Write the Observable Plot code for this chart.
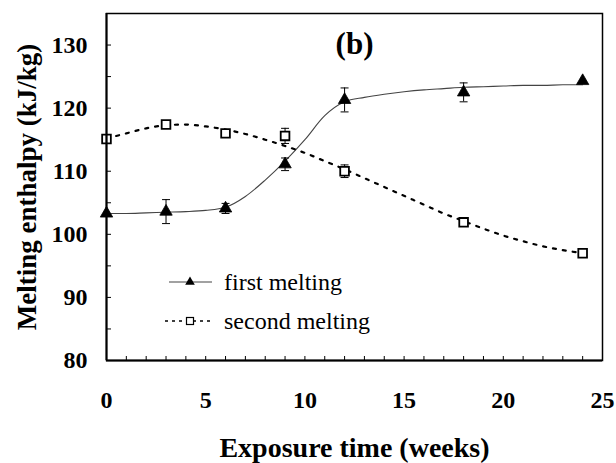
<!DOCTYPE html>
<html>
<head>
<meta charset="utf-8">
<script src="https://cdn.jsdelivr.net/npm/d3@7"></script>
<script src="https://cdn.jsdelivr.net/npm/@observablehq/plot@0.6"></script>
<style>
  html, body { margin: 0; padding: 0; background: #fff; }
  #chart { width: 616px; height: 463px; }
</style>
</head>
<body>
<div id="chart"></div>
<script>
// Measured points
const weeks = [0, 3, 6, 9, 12, 18, 24];
const firstMelting = [103.3, 103.6, 104.1, 111.1, 121.3, 122.5, 124.3];
const firstErr = [0, 1.9, 0.8, 1.0, 1.9, 1.5, 0];
const secondMelting = [115.1, 117.4, 116.0, 115.6, 110.0, 101.9, 97.0];
const secondErr = [0, 0, 0.6, 1.2, 1.0, 0.6, 0];

// Fitted curves
const fitWeeks = [0,1,2,3,4,5,6,7,8,9,10,11,12,13,14,15,16,17,18,19,20,21,22,23,24];
const fitFirst = [103.3,103.3,103.4,103.5,103.6,103.8,104.3,106.0,108.6,111.6,115.0,118.8,121.0,121.7,122.2,122.6,122.9,123.1,123.3,123.4,123.5,123.6,123.6,123.7,123.7];
const fitSecond = [115.2,116.0,116.8,117.3,117.4,117.1,116.6,115.9,115.0,114.0,112.9,111.6,110.3,108.9,107.5,106.1,104.7,103.3,102.1,100.9,99.8,98.9,98.1,97.5,97.0];

// Axis ticks
const xTicks = [0, 5, 10, 15, 20, 25];
const xMinor = [1,2,3,4,5,6,7,8,9,10,11,12,13,14,15,16,17,18,19,20,21,22,23,24];
const yTicks = [80, 90, 100, 110, 120, 130];
const yMinor = [85, 90, 95, 100, 105, 110, 115, 120, 125, 130];

const seriesLabels = ["first melting", "second melting"];
const panelLabel = "(b)";
const xTitle = "Exposure time (weeks)";
const yTitle = "Melting enthalpy (kJ/kg)";

const first = weeks.map((t, i) => ({t, v: firstMelting[i], e: firstErr[i]}));
const second = weeks.map((t, i) => ({t, v: secondMelting[i], e: secondErr[i]}));
const fit1 = fitWeeks.map((t, i) => ({t, v: fitFirst[i]}));
const fit2 = fitWeeks.map((t, i) => ({t, v: fitSecond[i]}));
const errs = [...first, ...second].filter(d => d.e > 0);

const hline = {draw(ctx, size) { const w = Math.sqrt(size); ctx.moveTo(-w / 2, 0); ctx.lineTo(w / 2, 0); }};
const tickUp = {draw(ctx) { ctx.moveTo(0, 0); ctx.lineTo(0, -4.5); }};
const tickRight = {draw(ctx) { ctx.moveTo(0, 0); ctx.lineTo(4.5, 0); }};

const serif = "'Liberation Serif', 'Times New Roman', serif";

const plot = Plot.plot({
  width: 616,
  height: 463,
  marginLeft: 106,
  marginRight: 14,
  marginTop: 13,
  marginBottom: 103,
  style: {fontFamily: serif, background: "#fff", color: "#000"},
  x: {domain: [0, 25], axis: null},
  y: {domain: [80, 135], axis: null},
  marks: [
    Plot.dot(xMinor, {x: d => d, frameAnchor: "bottom", symbol: tickUp, stroke: "#000", strokeWidth: 1}),
    Plot.dot(yMinor, {y: d => d, frameAnchor: "left", symbol: tickRight, stroke: "#000", strokeWidth: 1}),
    Plot.text(xTicks, {x: d => d, text: d => String(d), frameAnchor: "bottom", dy: 40, lineAnchor: "middle", fontSize: 24, fontWeight: "bold"}),
    Plot.text(yTicks, {y: d => d, text: d => String(d), frameAnchor: "left", dx: -19, textAnchor: "end", lineAnchor: "middle", fontSize: 24, fontWeight: "bold"}),
    Plot.text([xTitle], {frameAnchor: "bottom", dy: 88, fontSize: 28, fontWeight: "bold", lineAnchor: "middle"}),
    Plot.text([panelLabel], {frameAnchor: "top", dx: 0, dy: 31, fontSize: 31, fontWeight: "bold", lineAnchor: "middle"}),
    Plot.line(fit1, {x: "t", y: "v", curve: "monotone-x", stroke: "#444", strokeWidth: 1.1}),
    Plot.line(fit2, {x: "t", y: "v", curve: "monotone-x", stroke: "#000", strokeWidth: 2.2, strokeDasharray: "3,7"}),
    Plot.ruleX(errs, {x: "t", y1: d => d.v - d.e, y2: d => d.v + d.e, stroke: "#000", strokeWidth: 1}),
    Plot.dot(errs, {x: "t", y: d => d.v - d.e, symbol: hline, r: 4.5, stroke: "#000", strokeWidth: 1}),
    Plot.dot(errs, {x: "t", y: d => d.v + d.e, symbol: hline, r: 4.5, stroke: "#000", strokeWidth: 1}),
    Plot.dot(second, {x: "t", y: "v", symbol: "square", r: 4.9, fill: "#fff", stroke: "#000", strokeWidth: 1.8}),
    Plot.dot(first, {x: "t", y: "v", symbol: "triangle", r: 4.6, fill: "#000", stroke: "#000", strokeWidth: 0.8}),
    Plot.frame({stroke: "#000", strokeWidth: 1.5}),
    Plot.ruleX([0], {stroke: "#000", strokeWidth: 2}),
    Plot.ruleY([80], {stroke: "#000", strokeWidth: 2})
  ]
});

document.getElementById("chart").append(plot);

const svg = d3.select(plot);

// Y-axis title
svg.append("text")
  .attr("transform", "translate(27,187) rotate(-90)")
  .attr("text-anchor", "middle")
  .attr("dy", "0.32em")
  .attr("font-family", serif)
  .attr("font-size", 27)
  .attr("font-weight", "bold")
  .attr("fill", "#000")
  .text(yTitle);

// Legend (inside plot)
const leg = svg.append("g").attr("font-family", serif).attr("font-size", 24)
  .attr("font-weight", "normal").attr("text-anchor", "start");
const rowY = [282, 321];
// row 1
leg.append("line").attr("x1", 169).attr("x2", 212).attr("y1", rowY[0]).attr("y2", rowY[0])
  .attr("stroke", "#444").attr("stroke-width", 1.1);
leg.append("path").attr("d", d3.symbol(d3.symbolTriangle, 40)()).attr("transform", `translate(190,${rowY[0]})`)
  .attr("fill", "#000");
leg.append("text").attr("x", 224).attr("y", rowY[0]).attr("dy", "0.32em").attr("fill", "#000").text(seriesLabels[0]);
// row 2
leg.append("line").attr("x1", 165).attr("x2", 212).attr("y1", rowY[1]).attr("y2", rowY[1])
  .attr("stroke", "#000").attr("stroke-width", 1.5).attr("stroke-dasharray", "3,4");
leg.append("rect").attr("x", 186.5).attr("y", rowY[1] - 3.5).attr("width", 7).attr("height", 7)
  .attr("fill", "#fff").attr("stroke", "#000").attr("stroke-width", 1.2);
leg.append("text").attr("x", 224).attr("y", rowY[1]).attr("dy", "0.32em").attr("fill", "#000").text(seriesLabels[1]);
</script>
</body>
</html>
